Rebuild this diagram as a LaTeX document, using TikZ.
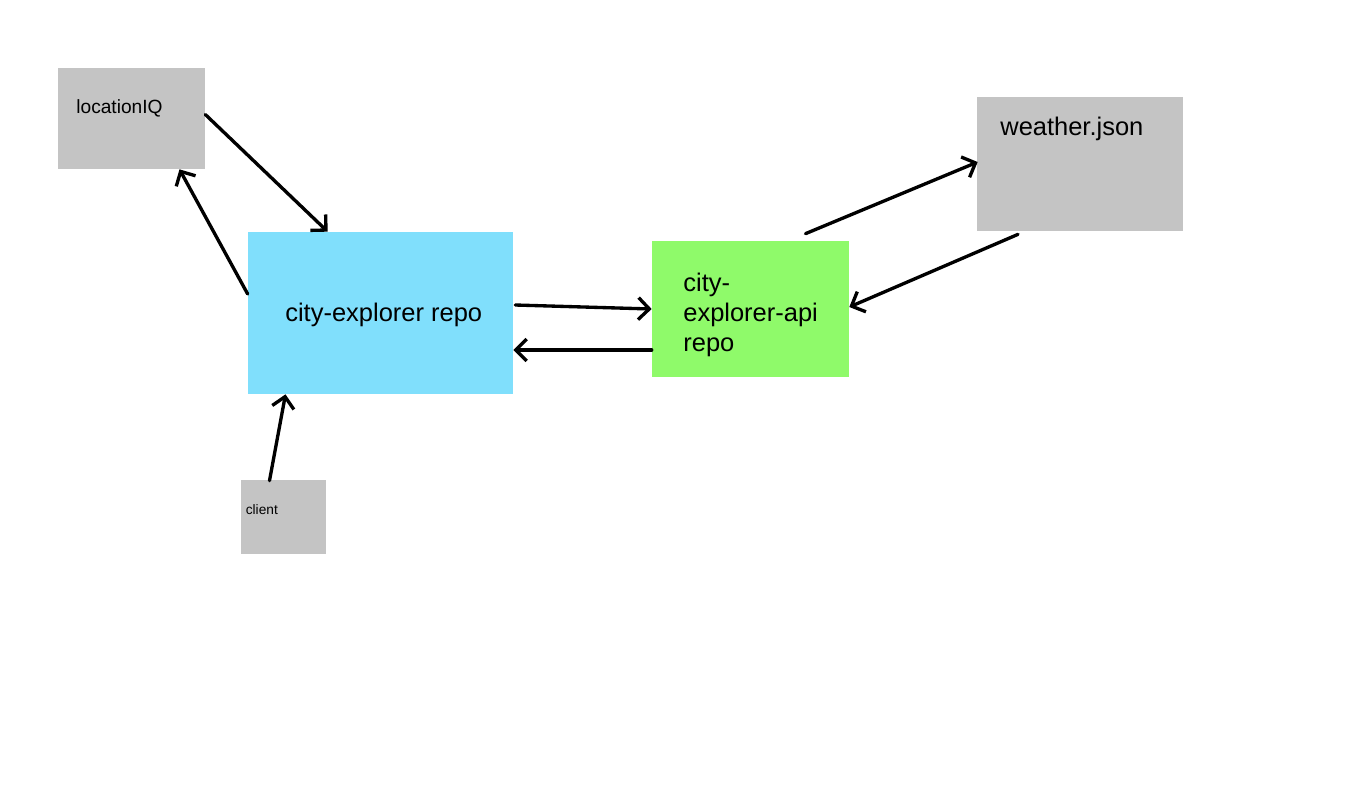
\documentclass[tikz,border=0pt]{standalone}
\usepackage{fontspec}
\setmainfont{Liberation Sans}
\usetikzlibrary{arrows.meta,calc}
\definecolor{boxgray}{HTML}{C4C4C4}
\definecolor{repoblue}{HTML}{80DFFC}
\definecolor{apigreen}{HTML}{8FFA6A}
\begin{document}
\begin{tikzpicture}[
  x=0.02cm, y=-0.02cm,
  srcbox/.style={rectangle, inner sep=0pt, draw=none},
  lbl/.style={anchor=base west, inner sep=0pt, font=\fontsize{14.5}{17}\selectfont, align=left},
  arrow/.style={-{Straight Barb[length=2.2mm, width=4.4mm]}, line width=1.9pt, line cap=round, black}
]
  \useasboundingbox (0,0) rectangle (1362,802);

  % Sources (gray)
  \node[srcbox, fill=boxgray, minimum width=2.94cm, minimum height=2.02cm] (loc) at (131.5,118.5) {};
  \node[srcbox, fill=boxgray, minimum width=4.12cm, minimum height=2.68cm] (weather) at (1080,164) {};
  \node[srcbox, fill=boxgray, minimum width=1.7cm, minimum height=1.48cm] (client) at (283.5,517) {};

  % Repos
  \node[srcbox, fill=repoblue, minimum width=5.3cm, minimum height=3.24cm] (repo) at (380.5,313) {};
  \node[srcbox, fill=apigreen, minimum width=3.94cm, minimum height=2.72cm] (api) at (750.5,309) {};

  % Labels
  \node[lbl, font=\fontsize{10.9}{13}\selectfont] (loclbl) at (76,113) {locationIQ};
  \node[lbl] (weatherlbl) at (1000,135.5) {weather.json};
  \node[lbl, font=\fontsize{7.8}{9}\selectfont] (clientlbl) at (245.5,514) {client};
  \node[lbl] (repolbl) at (285,321) {city-explorer repo};
  \node[lbl] (apilbl) at (683,351) {city-\\explorer-api\\repo};

  % Arrows
  \draw[arrow] ($(loc.east)+(0,-4)$) -- ($(repo.north west)+(80,0)$);
  \draw[arrow] ($(repo.west)+(0,-19)$) -- ($(loc.south)+(48,0)$);
  \draw[arrow] ($(repo.east)+(2,-8)$) -- (api.west);
  \draw[arrow] ($(api.west)+(0,41)$) -- ($(repo.east)+(0,37)$);
  \draw[arrow] ($(api.north)+(55,-7)$) -- ($(weather.west)+(1,-2)$);
  \draw[arrow] ($(weather.south)+(-62,3)$) -- ($(api.east)+(0,-2)$);
  \draw[arrow] ($(client.north)+(-14,1)$) -- ($(repo.south)+(-95,0)$);
\end{tikzpicture}
\end{document}
